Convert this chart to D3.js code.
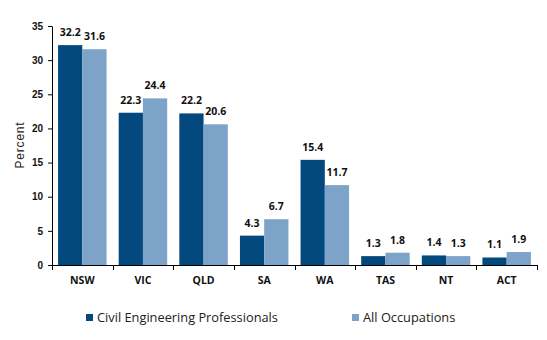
<!DOCTYPE html>
<html><head><meta charset="utf-8">
<script src="https://cdn.jsdelivr.net/npm/d3@7"></script>
<style>body{margin:0;background:#fff}svg{display:block}</style>
</head><body>
<svg id="c" width="547" height="340"></svg>
<script>
const categories = ["NSW","VIC","QLD","SA","WA","TAS","NT","ACT"];
const civilEng = [32.2,22.3,22.2,4.3,15.4,1.3,1.4,1.1];
const allOcc = [31.6,24.4,20.6,6.7,11.7,1.8,1.3,1.9];
const seriesNames = ["Civil Engineering Professionals","All Occupations"];
const yTicks = [0,5,10,15,20,25,30,35];
const colors = ["#03497D","#7DA3C9"];

(function(){
const svg = d3.select("#c");
const mLeft = 52, mRight = 537, mTop = 26, mBottom = 265;
const x = d3.scaleBand().domain(categories).range([mLeft,mRight]).paddingInner(0.2).paddingOuter(0.1);
const x1 = d3.scaleBand().domain([0,1]).range([0,x.bandwidth()]);
const y = d3.scaleLinear().domain([0,35]).range([mBottom,mTop]);

const series = [civilEng, allOcc];
series.forEach((vals,si)=>{
  const g = svg.append("g");
  g.selectAll("rect").data(vals).enter().append("rect")
    .attr("x",(d,i)=>x(categories[i])+x1(si))
    .attr("y",d=>y(d))
    .attr("width",x1.bandwidth())
    .attr("height",d=>mBottom-y(d))
    .attr("fill",colors[si]);
  g.selectAll("text").data(vals).enter().append("text")
    .attr("x",(d,i)=>x(categories[i])+x1(si)+x1.bandwidth()/2)
    .attr("y",d=>y(d)-9)
    .attr("text-anchor","middle")
    .attr("font-family","'Open Sans', sans-serif")
    .attr("font-weight","bold")
    .attr("font-size","10.5px")
    .attr("fill","#111")
    .text(d=>d.toFixed(1));
});

const ya = svg.append("g").attr("transform",`translate(${mLeft},0)`)
  .call(d3.axisLeft(y).tickValues(yTicks).tickSize(4).tickSizeOuter(0).tickPadding(5));
ya.select(".domain").attr("stroke","#000");
ya.selectAll("text").attr("font-family","'Liberation Sans Narrow','Liberation Sans',sans-serif").attr("font-size","10px").attr("font-weight","bold").attr("fill","#111");

const step = x.step();
const xa = svg.append("g");
xa.append("line").attr("x1",mLeft).attr("x2",mRight).attr("y1",mBottom+0.5).attr("y2",mBottom+0.5).attr("stroke","#000");
xa.selectAll("line.t").data(d3.range(categories.length+1)).enter().append("line")
  .attr("class","t")
  .attr("x1",i=>Math.round(mLeft+i*step)+0.5).attr("x2",i=>Math.round(mLeft+i*step)+0.5)
  .attr("y1",mBottom).attr("y2",mBottom+5).attr("stroke","#000");
xa.selectAll("text").data(categories).enter().append("text")
  .attr("x",d=>x(d)+x.bandwidth()/2).attr("y",mBottom+19)
  .attr("text-anchor","middle")
  .attr("font-family","'Open Sans', sans-serif").attr("font-weight","bold").attr("font-size","10.5px").attr("fill","#111")
  .text(d=>d);

svg.append("text").attr("transform","translate(24,145) rotate(-90)")
  .attr("text-anchor","middle").attr("font-family","'Liberation Sans',sans-serif")
  .attr("font-size","12px").attr("letter-spacing","0.8px").attr("fill","#222").text("Percent");

const legX = [86,352];
seriesNames.forEach((n,i)=>{
  svg.append("rect").attr("x",legX[i]).attr("y",314).attr("width",7).attr("height",7).attr("fill",colors[i]);
  svg.append("text").attr("x",legX[i]+11).attr("y",322)
    .attr("font-family","'Open Sans', sans-serif").attr("font-size","12.8px").attr("fill","#222").text(n);
});
})();
</script>
</body></html>
